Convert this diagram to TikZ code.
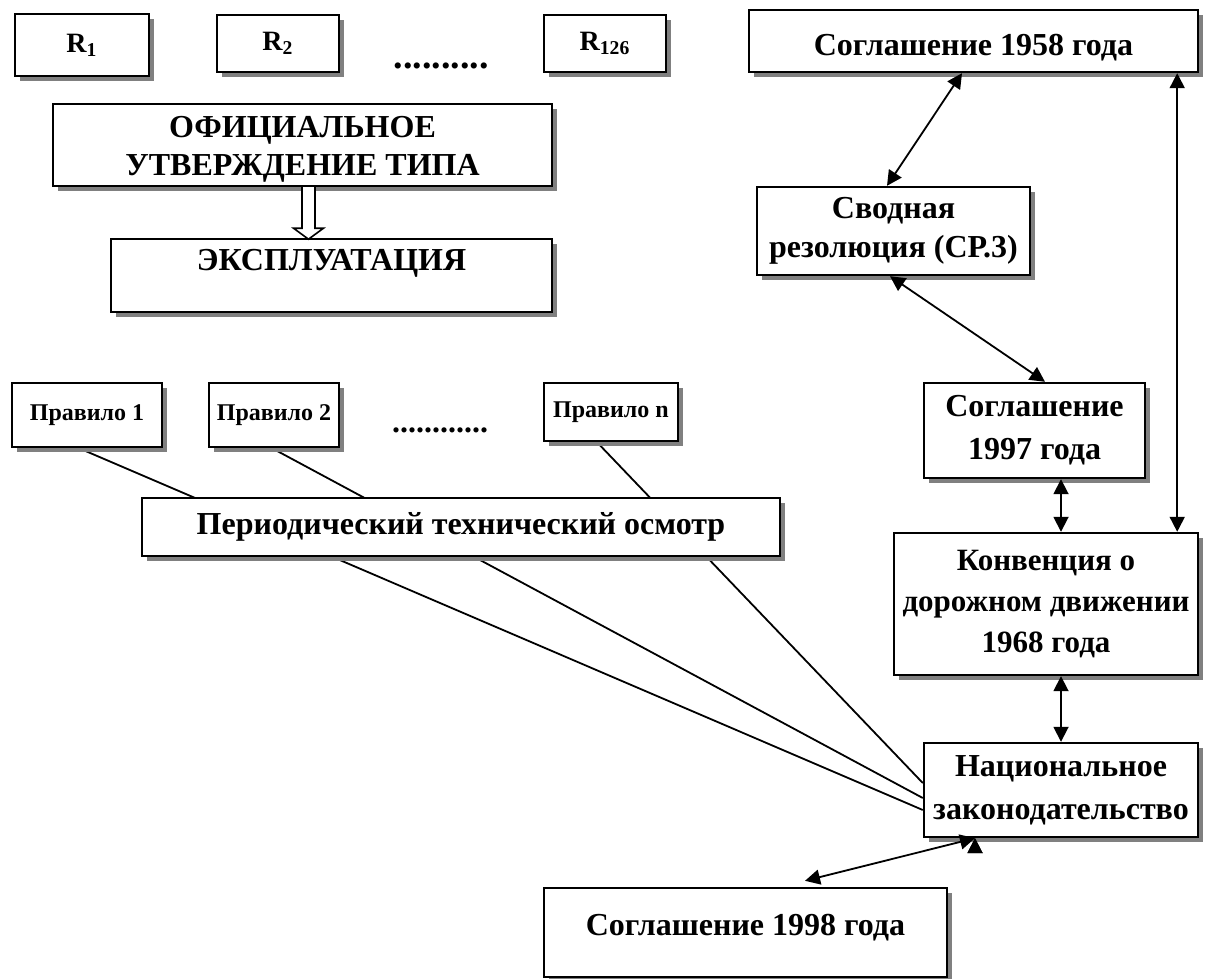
\documentclass[tikz,border=0pt]{standalone}
\usepackage{fontspec}
\setmainfont{Liberation Serif}
\usepackage{tikz}
\usetikzlibrary{arrows.meta}
\usetikzlibrary{backgrounds}
\usetikzlibrary{shadows}

\tikzset{
  box/.style={draw,rectangle,line width=1.2pt,fill=white,inner sep=0pt,align=center,
    font=\bfseries\fontsize{16}{20}\selectfont,
    drop shadow={shadow xshift=2.5pt,shadow yshift=-2.5pt,fill=black!50,opacity=1}},
  rbox/.style={box,font=\bfseries\fontsize{14}{17}\selectfont},
  rulebox/.style={box,font=\bfseries\fontsize{12}{15}\selectfont},
  link/.style={draw,line width=0.9pt},
  both/.style={link,<->,>={Triangle[length=7.5pt,width=7.5pt]}}
}

\begin{document}
\begin{tikzpicture}[x=0.5pt,y=-0.5pt]
  \useasboundingbox (0,0) rectangle (1205,979);

  \node[rbox,minimum width=67pt,minimum height=31pt] (r1) at (82,45) {R\textsubscript{1}};
  \node[rbox,minimum width=61pt,minimum height=28.5pt] (r2) at (278,43.5) {R\textsubscript{2}};
  \node[rbox,minimum width=61pt,minimum height=28.5pt] (r126) at (605,43.5) {R\textsubscript{126}};
  \node[anchor=base,font=\bfseries\fontsize{19}{20}\selectfont] (dotsR) at (441,69) {..........};

  \node[box,minimum width=249.5pt,minimum height=41pt,font=\bfseries\fontsize{16}{19}\selectfont] (ofic) at (302.5,145) {\rule{0pt}{15pt}ОФИЦИАЛЬНОЕ\\УТВЕРЖДЕНИЕ ТИПА};
  \node[box,minimum width=220.5pt,minimum height=36.5pt,text height=11pt,text depth=16pt] (expl) at (331.5,275.5) {ЭКСПЛУАТАЦИЯ};
  \coordinate (ha) at ([xshift=3pt]ofic.south);
  \draw[line width=0.8pt,fill=white] ([xshift=-3.25pt]ha) -- ++(0,-20.5pt) -- ++(-4.25pt,0)
    -- ++(7.5pt,-5.5pt) -- ++(7.5pt,5.5pt) -- ++(-4.25pt,0) -- ++(0,20.5pt);

  \node[rulebox,minimum width=75pt,minimum height=32pt] (p1) at (87,415) {Правило 1};
  \node[rulebox,minimum width=65pt,minimum height=32pt] (p2) at (274,415) {Правило 2};
  \node[rulebox,minimum width=67pt,minimum height=29pt] (pn) at (611,412) {Правило n};
  \node[anchor=base,font=\bfseries\fontsize{16}{18}\selectfont] (dotsP) at (440,432) {............};
  \node[box,minimum width=319pt,minimum height=29pt] (pto) at (461,527) {Периодический технический осмотр};

  \node[box,minimum width=224.5pt,minimum height=31pt,text height=18pt,text depth=3.5pt] (s1958) at (973.5,41) {Соглашение 1958 года};
  \node[box,minimum width=136.5pt,minimum height=44pt,font=\bfseries\fontsize{16}{19.5}\selectfont] (svod) at (893.5,231) {Сводная\\резолюция (СР.3)};
  \node[box,minimum width=110.5pt,minimum height=47.5pt,font=\bfseries\fontsize{16}{21.5}\selectfont] (s1997) at (1034.5,430.5) {Соглашение\\1997 года};
  \node[box,minimum width=152pt,minimum height=71pt,font=\bfseries\fontsize{15.5}{20.5}\selectfont] (konv) at (1046,604) {Конвенция о\\дорожном движении\\1968 года};
  \node[box,minimum width=137pt,minimum height=47pt,font=\bfseries\fontsize{16}{21.5}\selectfont] (nac) at (1061,790) {Национальное\\законодательство};
  \node[box,minimum width=201.5pt,minimum height=44.5pt,text height=11pt,text depth=8pt] (s1998) at (745.5,932.5) {Соглашение 1998 года};

  \coordinate (longx) at ([xshift=-11pt]konv.north east);

  \path[both]
    ([xshift=-5.75pt]s1958.south) edge ([xshift=-3.25pt]svod.north)
    ([xshift=-1.75pt]svod.south)  edge ([xshift=5.25pt]s1997.north)
    (s1997.south -| nac.north)    edge (konv.north -| nac.north)
    (konv.south -| nac.north)     edge (nac.north)
    (s1958.south -| longx)        edge (konv.north -| longx)
    ([xshift=-43pt]nac.south)     edge ([xshift=29.75pt,yshift=3pt]s1998.north);

  \begin{scope}[on background layer]
    \path[link]
      ([xshift=-4pt]p1.south) edge ([yshift=-10pt]nac.west)
      ([xshift=-1pt]p2.south) edge ([yshift=-4pt]nac.west)
      ([xshift=-7pt]pn.south) edge ([yshift=3.5pt]nac.west);
  \end{scope}

\end{tikzpicture}
\end{document}
